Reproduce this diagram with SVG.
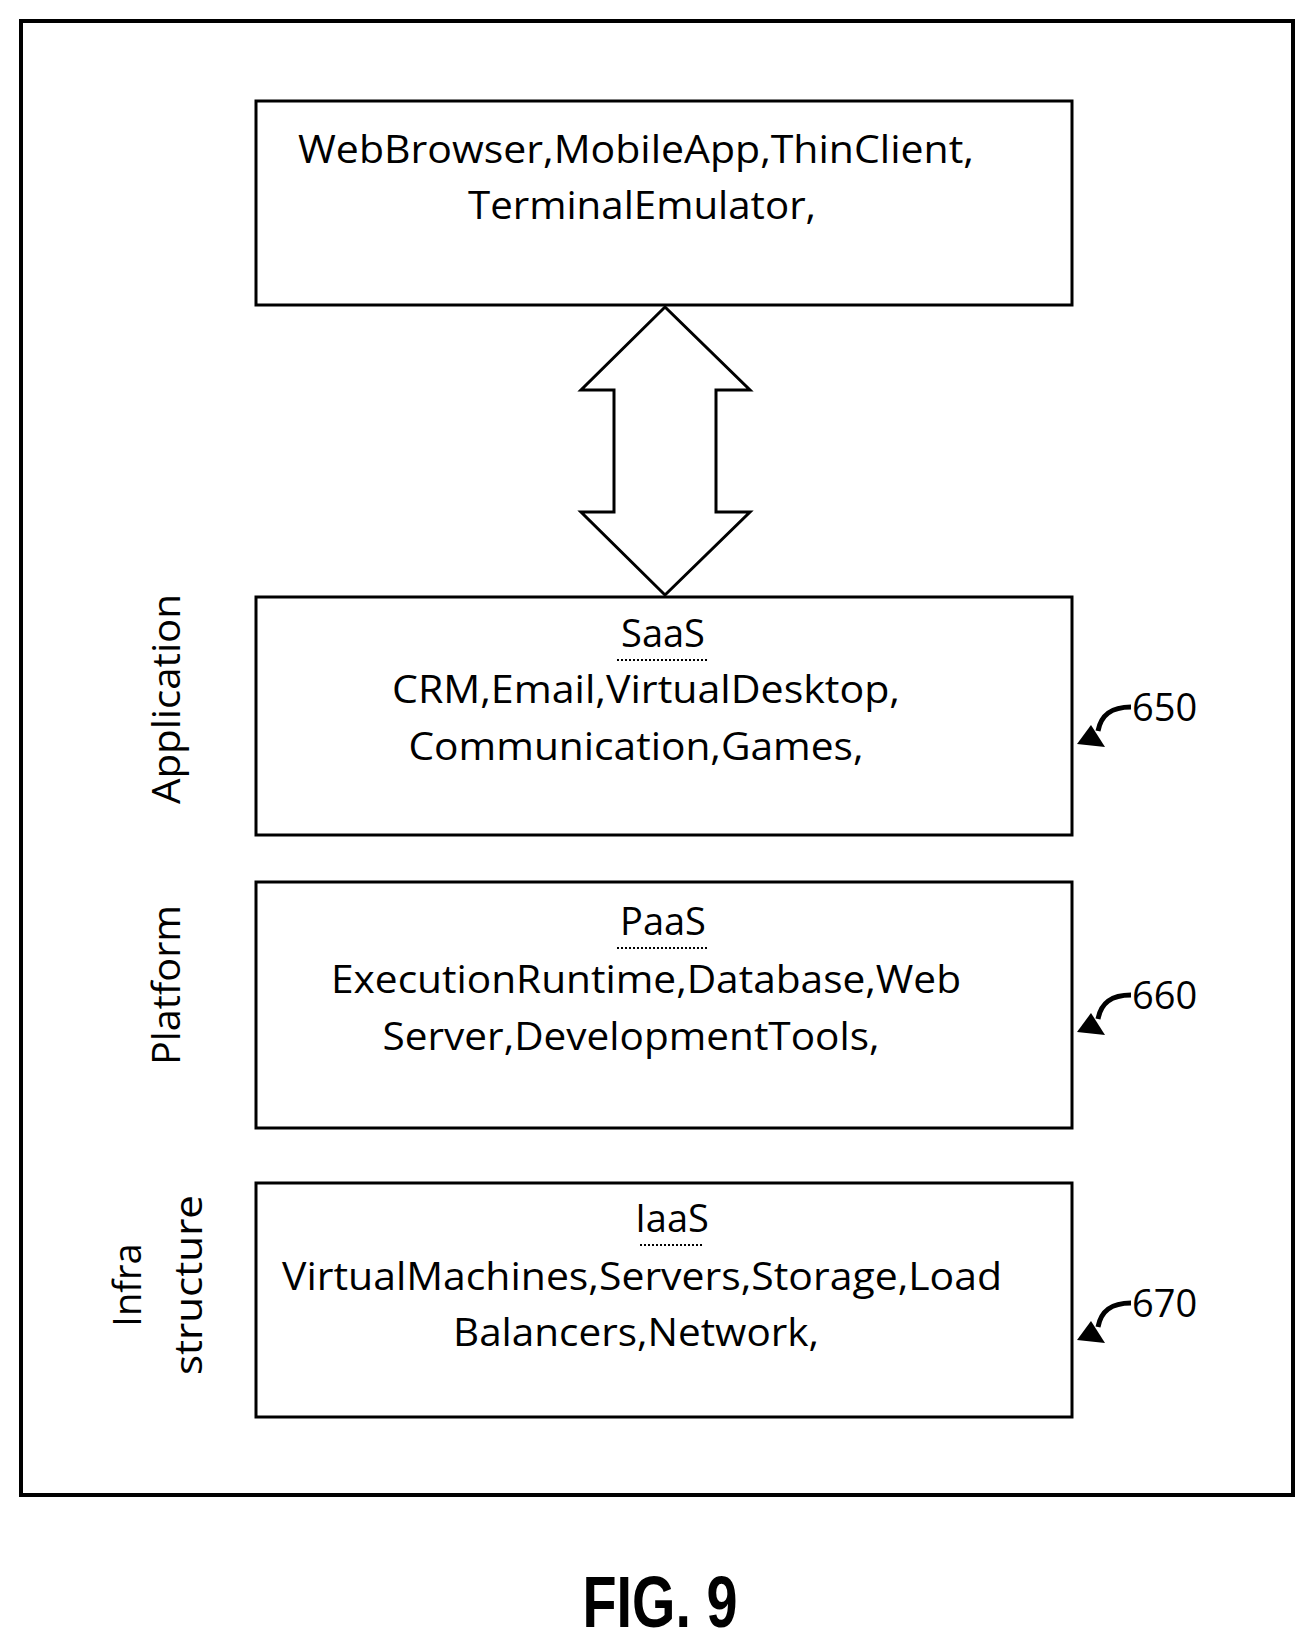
<svg xmlns="http://www.w3.org/2000/svg" width="1316" height="1652" viewBox="0 0 1316 1652">
<style>
.box{fill:#fff;stroke:#000;stroke-width:3}
.t{font-family:"Open Sans","Liberation Sans",sans-serif;font-size:38px;fill:#000;text-anchor:middle}
.ref{font-family:"Open Sans","Liberation Sans",sans-serif;font-size:38px;fill:#000}
.ul{stroke:#000;stroke-width:2;stroke-dasharray:2 2}
.lead{fill:none;stroke:#000;stroke-width:5}
</style>
<defs>
<g id="leader">
<path class="lead" d="M0,0 C-20,0 -30,8 -33,24"/>
<polygon points="-54,37 -40,18 -26,40" fill="#000"/>
</g>
</defs>
<rect x="21" y="21" width="1272" height="1474" fill="#fff" stroke="#000" stroke-width="4"/>
<g id="client">
<rect class="box" x="256" y="101" width="816" height="204"/>
<text class="t" x="636" y="163" textLength="676" lengthAdjust="spacingAndGlyphs">WebBrowser,MobileApp,ThinClient,</text>
<text class="t" x="642" y="219" textLength="348" lengthAdjust="spacingAndGlyphs">TerminalEmulator,</text>
</g>
<g id="connectors">
<polygon points="665,307 750,390 716,390 716,512 750,512 665,595 581,512 614,512 614,390 581,390" fill="#fff" stroke="#000" stroke-width="3"/>
<use href="#leader" x="1131" y="707"/>
<use href="#leader" x="1131" y="995"/>
<use href="#leader" x="1131" y="1303"/>
</g>
<g id="saas">
<rect class="box" x="256" y="597" width="816" height="238"/>
<text class="t" x="663" y="647">SaaS</text>
<line class="ul" x1="617" y1="660" x2="709" y2="660"/>
<text class="t" x="646" y="703" textLength="508" lengthAdjust="spacingAndGlyphs">CRM,Email,VirtualDesktop,</text>
<text class="t" x="636" y="760" textLength="455" lengthAdjust="spacingAndGlyphs">Communication,Games,</text>
</g>
<g id="paas">
<rect class="box" x="256" y="882" width="816" height="246"/>
<text class="t" x="663" y="935">PaaS</text>
<line class="ul" x1="617" y1="948" x2="709" y2="948"/>
<text class="t" x="646" y="993" textLength="630" lengthAdjust="spacingAndGlyphs">ExecutionRuntime,Database,Web</text>
<text class="t" x="631" y="1050" textLength="497" lengthAdjust="spacingAndGlyphs">Server,DevelopmentTools,</text>
</g>
<g id="iaas">
<rect class="box" x="256" y="1183" width="816" height="234"/>
<text class="t" x="672" y="1232">IaaS</text>
<line class="ul" x1="640" y1="1245" x2="704" y2="1245"/>
<text class="t" x="642" y="1290" textLength="720" lengthAdjust="spacingAndGlyphs">VirtualMachines,Servers,Storage,Load</text>
<text class="t" x="636" y="1346" textLength="366" lengthAdjust="spacingAndGlyphs">Balancers,Network,</text>
</g>
<g id="labels">
<text class="t" transform="translate(180,699) rotate(-90)" textLength="210" lengthAdjust="spacingAndGlyphs">Application</text>
<text class="t" transform="translate(180,985) rotate(-90)" textLength="160" lengthAdjust="spacingAndGlyphs">Platform</text>
<text class="t" transform="translate(141,1285) rotate(-90)">Infra</text>
<text class="t" transform="translate(202,1285) rotate(-90)" textLength="180" lengthAdjust="spacingAndGlyphs">structure</text>
<text class="ref" x="1132" y="721">650</text>
<text class="ref" x="1132" y="1009">660</text>
<text class="ref" x="1132" y="1317">670</text>
<text x="660" y="1627" font-family="Liberation Sans Narrow, Liberation Sans, sans-serif" font-weight="bold" font-size="72" text-anchor="middle" textLength="155" lengthAdjust="spacingAndGlyphs">FIG. 9</text>
</g>
</svg>
